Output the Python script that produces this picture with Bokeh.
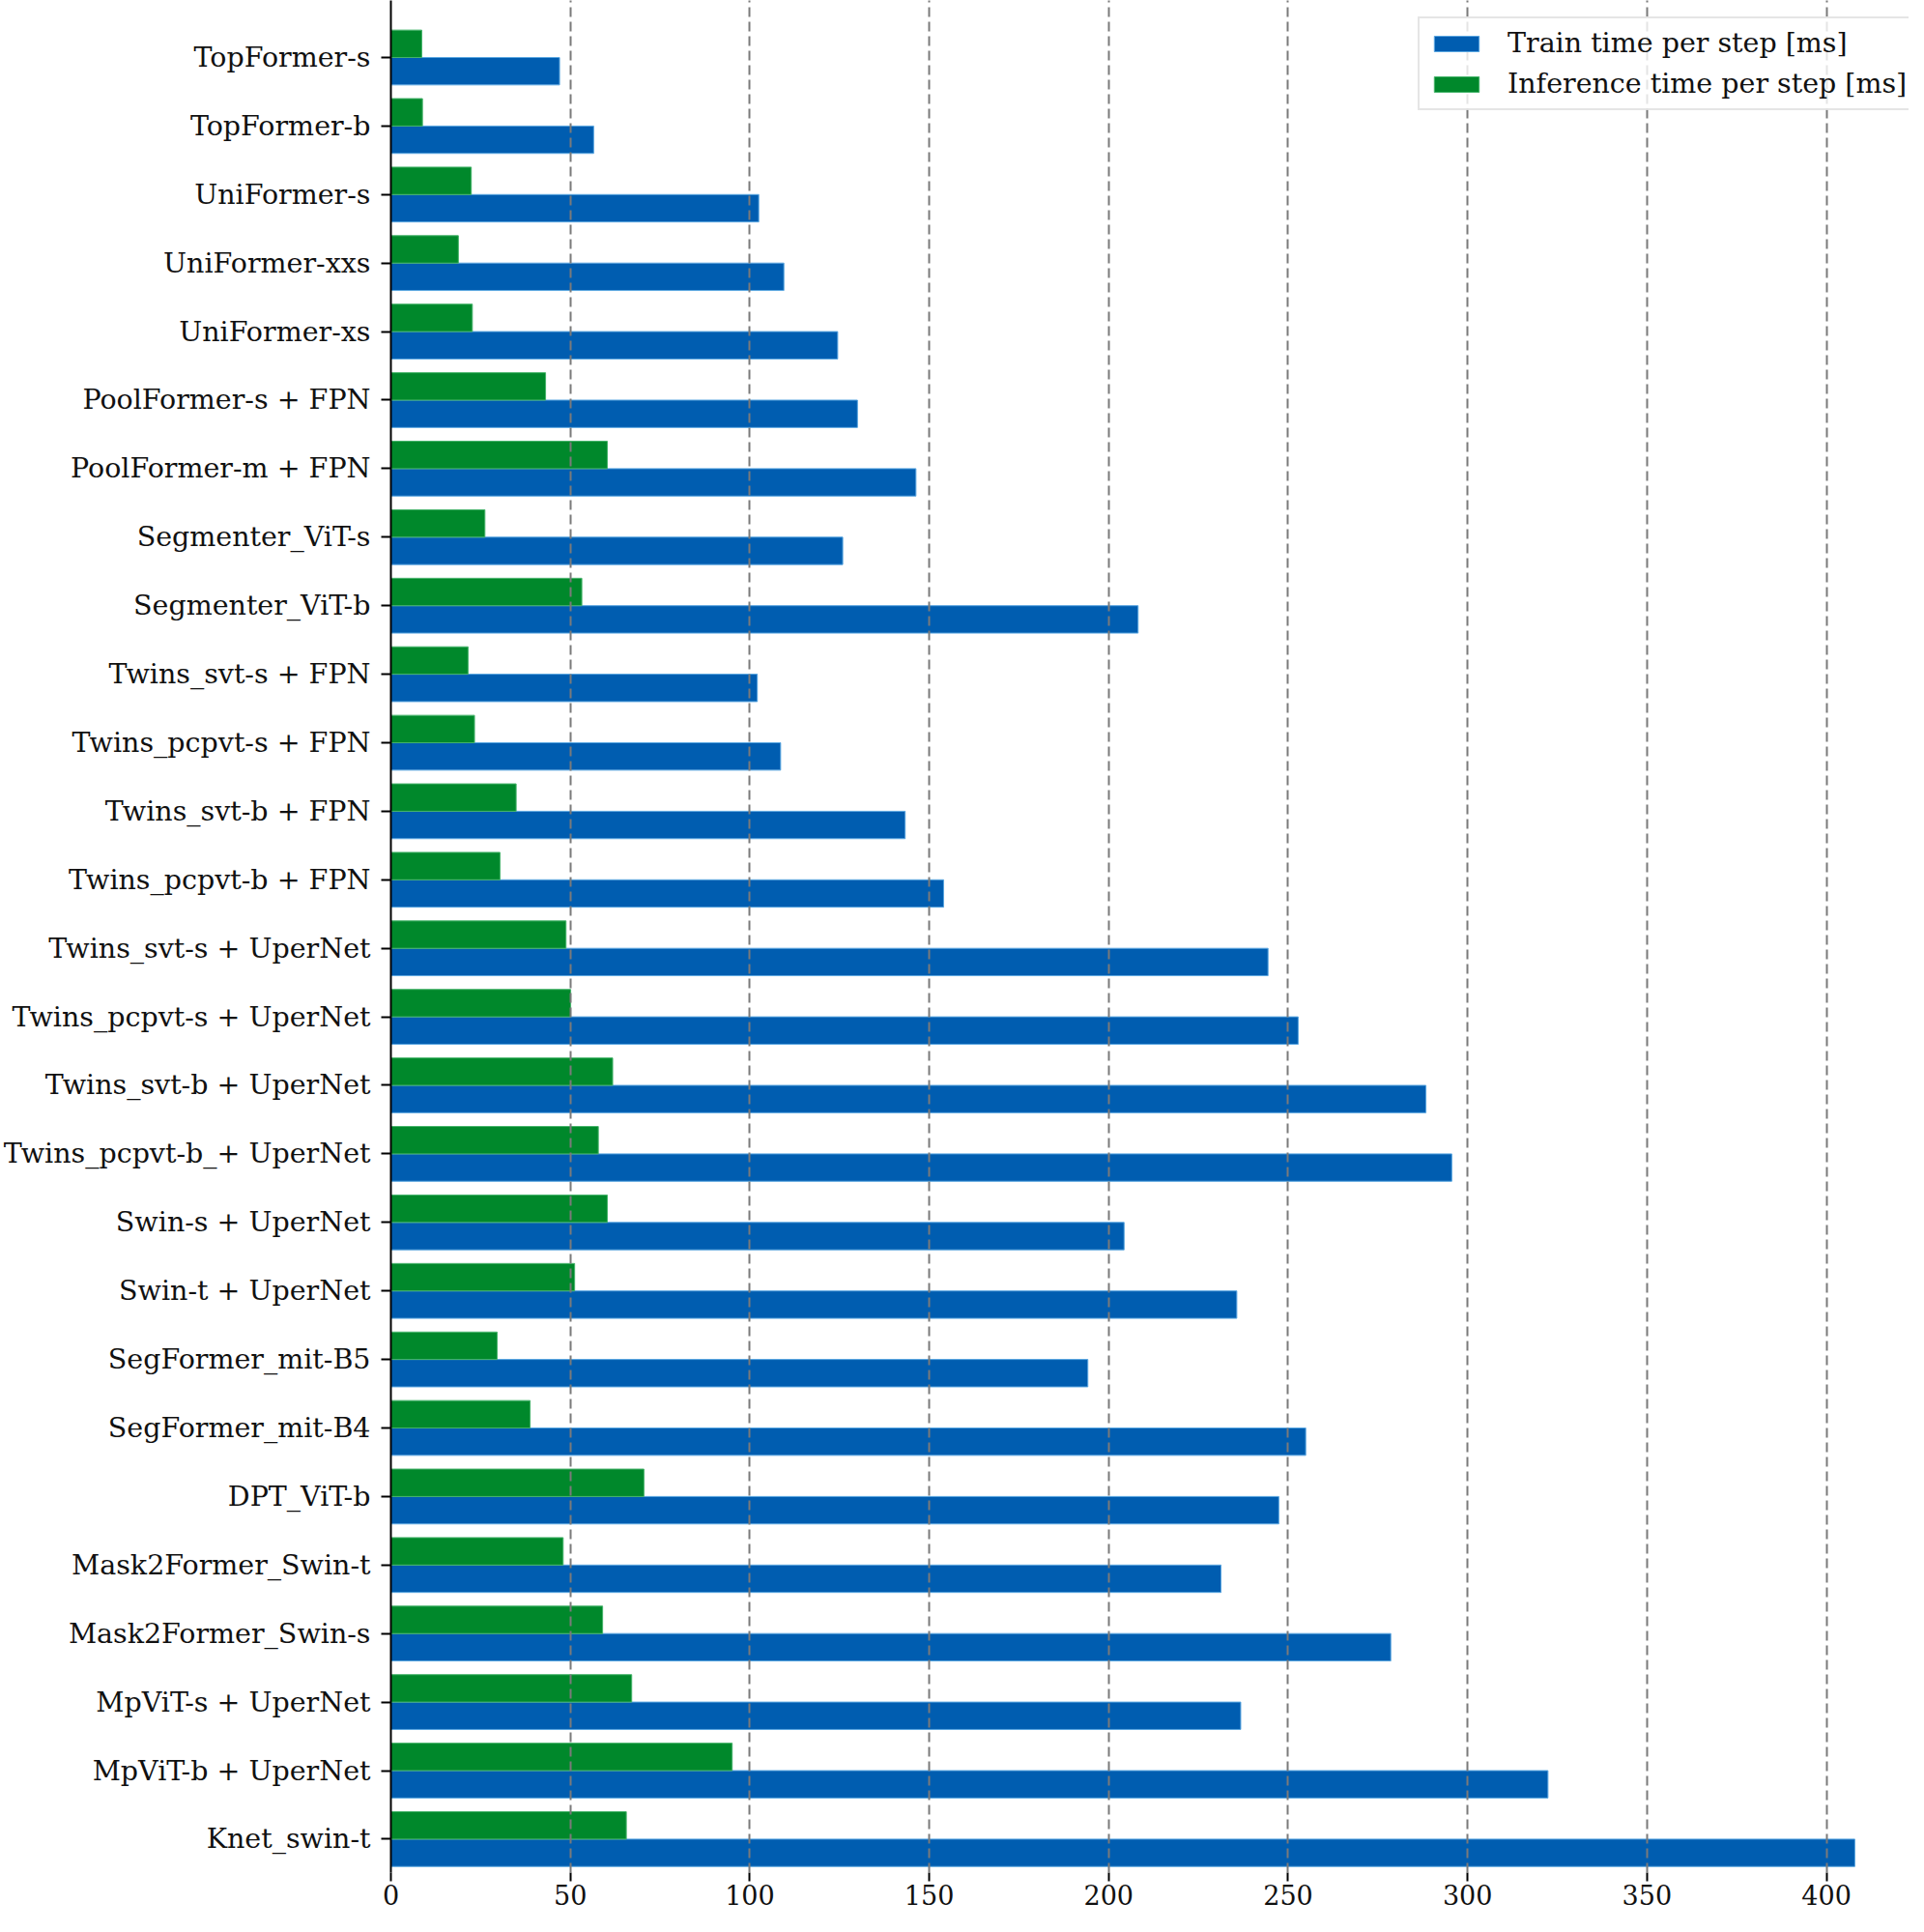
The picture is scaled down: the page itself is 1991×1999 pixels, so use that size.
from bokeh.plotting import figure
from bokeh.models import (Range1d, Legend, LegendItem, FixedTicker, ColumnDataSource)
from bokeh.transform import dodge
from bokeh.embed import file_html
from bokeh.resources import INLINE

models = [
    "TopFormer-s", "TopFormer-b", "UniFormer-s", "UniFormer-xxs", "UniFormer-xs",
    "PoolFormer-s + FPN", "PoolFormer-m + FPN", "Segmenter_ViT-s", "Segmenter_ViT-b",
    "Twins_svt-s + FPN", "Twins_pcpvt-s + FPN", "Twins_svt-b + FPN", "Twins_pcpvt-b + FPN",
    "Twins_svt-s + UperNet", "Twins_pcpvt-s + UperNet", "Twins_svt-b + UperNet",
    "Twins_pcpvt-b_+ UperNet", "Swin-s + UperNet", "Swin-t + UperNet",
    "SegFormer_mit-B5", "SegFormer_mit-B4", "DPT_ViT-b", "Mask2Former_Swin-t",
    "Mask2Former_Swin-s", "MpViT-s + UperNet", "MpViT-b + UperNet", "Knet_swin-t",
]
train_ms = [
    47.0, 56.5, 102.5, 109.5, 124.5,
    130.0, 146.3, 125.9, 208.2,
    102.1, 108.6, 143.3, 154.0,
    244.4, 252.8, 288.4,
    295.6, 204.3, 235.7,
    194.2, 254.9, 247.4, 231.3,
    278.6, 236.8, 322.4, 407.9,
]
infer_ms = [
    8.6, 8.8, 22.4, 18.8, 22.7,
    43.1, 60.3, 26.2, 53.2,
    21.5, 23.3, 34.9, 30.4,
    48.8, 50.1, 61.8,
    57.8, 60.3, 51.2,
    29.6, 38.8, 70.5, 48.0,
    59.0, 67.1, 95.1, 65.6,
]
x_ticks = [0, 50, 100, 150, 200, 250, 300, 350, 400]
series_labels = ["Train time per step [ms]", "Inference time per step [ms]"]

BLUE = "#005DB0"
GREEN = "#00882B"
FONT = "DejaVu Serif"

n = len(models)
ypos = [n - 1 - i for i in range(n)]  # first model at the top
src = ColumnDataSource(dict(model=models, pos=ypos, train=train_ms, infer=infer_ms))

p = figure(
    width=1975, height=1983,
    y_range=Range1d(-0.488, n - 1 + 0.832),
    x_range=Range1d(0, 423),
    output_backend="svg", toolbar_location=None,
    min_border_left=0, min_border_right=0, min_border_top=0, min_border_bottom=46,
)
p.outline_line_color = None
p.background_fill_color = "white"
p.border_fill_color = "white"

r_train = p.hbar(y=dodge("pos", -0.2), left=0, right="train",
                 height=0.4, source=src, fill_color=BLUE, line_color="#5aa6e0",
                 line_width=1)
r_inf = p.hbar(y=dodge("pos", 0.2), left=0, right="infer",
               height=0.4, source=src, fill_color=GREEN, line_color="#45b36a",
               line_width=1)

# grid
p.ygrid.grid_line_color = None
p.xgrid.ticker = FixedTicker(ticks=x_ticks)
p.xgrid.grid_line_color = "#7a7a7a"
p.xgrid.grid_line_width = 2
p.xgrid.grid_line_dash = "10 5"
p.xgrid.level = "guide"

# x axis
p.xaxis.ticker = FixedTicker(ticks=x_ticks)
p.xaxis.axis_line_color = None
p.xaxis.major_tick_out = 9
p.xaxis.major_tick_in = 0
p.xaxis.major_tick_line_width = 2
p.xaxis.major_tick_line_color = "black"
p.xaxis.minor_tick_line_color = None
p.xaxis.major_label_standoff = 3
p.xaxis.major_label_text_font = FONT
p.xaxis.major_label_text_font_size = "27px"
p.xaxis.major_label_text_color = "#111111"

# y axis
p.yaxis.ticker = FixedTicker(ticks=ypos)
p.yaxis.major_label_overrides = {pos: name for pos, name in zip(ypos, models)}
p.yaxis.axis_line_color = "black"
p.yaxis.axis_line_width = 2
p.yaxis.major_tick_out = 10
p.yaxis.major_tick_in = 0
p.yaxis.major_tick_line_width = 2
p.yaxis.major_tick_line_color = "black"
p.yaxis.minor_tick_line_color = None
p.yaxis.major_label_standoff = 11
p.yaxis.major_label_text_font = FONT
p.yaxis.major_label_text_font_size = "28.5px"
p.yaxis.major_label_text_color = "#111111"

legend = Legend(
    items=[LegendItem(label=series_labels[0], renderers=[r_train]),
           LegendItem(label=series_labels[1], renderers=[r_inf])],
    location=(1063, 1823),
    margin=0,
    padding=9,
    spacing=9,
    glyph_width=58, glyph_height=20,
    label_height=33,
    label_standoff=24,
    label_text_font=FONT,
    label_text_font_size="28.5px",
    label_text_color="#111111",
    border_line_color="#cccccc",
    border_line_width=2,
    background_fill_color="white",
    background_fill_alpha=0.8,
)
p.add_layout(legend)

open("out.html", "w").write(file_html(p, INLINE))
